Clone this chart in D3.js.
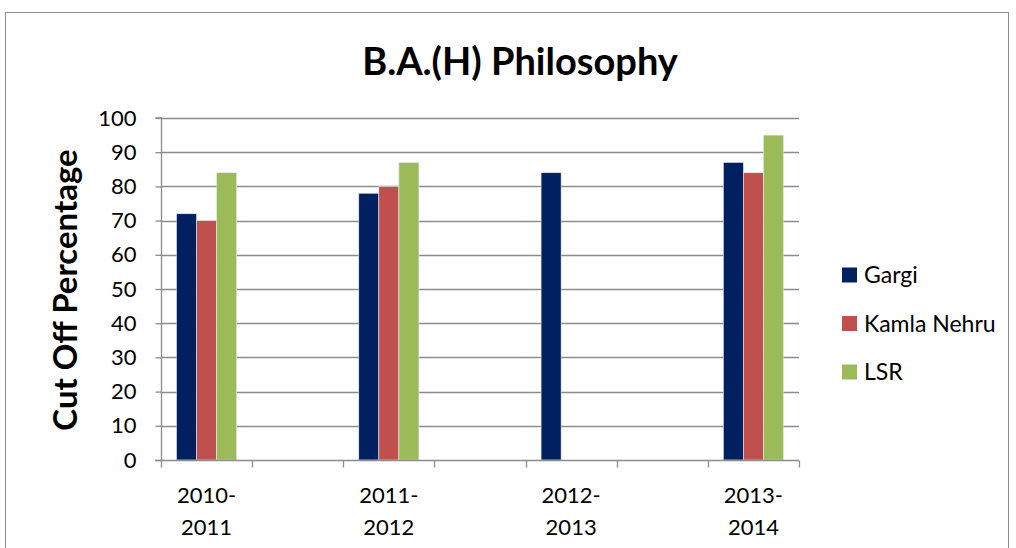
<!DOCTYPE html>
<html><head><meta charset="utf-8">
<script src="https://cdn.jsdelivr.net/npm/d3@7/dist/d3.min.js"></script>
<style>body{margin:0;background:#fff}svg{display:block}text{font-family:Lato,"Open Sans",sans-serif}</style>
</head><body>
<script>
const categories = ["2010-2011", "", "2011-2012", "", "2012-2013", "", "2013-2014"];
const seriesNames = ["Gargi", "Kamla Nehru", "LSR"];
const gargi = [72, null, 78, null, 84, null, 87];
const kamlaNehru = [70, null, 80, null, null, null, 84];
const lsr = [84, null, 87, null, null, null, 95];
const yTicks = [0,10,20,30,40,50,60,70,80,90,100];
const colors = ["#002060", "#C0504D", "#9BBB59"];
const series = [gargi, kamlaNehru, lsr];

const W = 1016, H = 548;
const svg = d3.select("body").append("svg").attr("width", W).attr("height", H);
svg.append("rect").attr("x", 5.5).attr("y", 12.5).attr("width", 1003).attr("height", 545)
  .attr("fill", "#fff").attr("stroke", "#8c8c8c").attr("stroke-width", 1);

const pLeft = 161, pRight = 799, pTop = 118, pBottom = 460;
const x = d3.scaleBand().domain(d3.range(categories.length)).range([pLeft, pRight]).paddingInner(0).paddingOuter(0);
const y = d3.scaleLinear().domain([0, 100]).range([pBottom, pTop]);

// gridlines
svg.append("g").selectAll("line").data(yTicks.filter(d => d > 0)).join("line")
  .attr("x1", pLeft).attr("x2", pRight).attr("y1", d => Math.round(y(d)) + 0.5).attr("y2", d => Math.round(y(d)) + 0.5)
  .attr("stroke", "#8c8c8c").attr("stroke-width", 1.3);

// bars
const inner = x.bandwidth() * 0.66;
const sub = d3.scaleBand().domain(d3.range(series.length)).range([0, inner]);
series.forEach((vals, si) => {
  svg.append("g").selectAll("rect").data(vals.map((v, i) => ({v, i})).filter(d => d.v != null)).join("rect")
    .attr("x", d => x(d.i) + (x.bandwidth() - inner) / 2 + sub(si))
    .attr("y", d => y(d.v))
    .attr("width", sub.bandwidth())
    .attr("height", d => y(0) - y(d.v))
    .attr("fill", colors[si]).attr("stroke", "#e8ecf4").attr("stroke-width", 0.6);
});

// y axis
const ya = svg.append("g").attr("transform", `translate(${pLeft + 0.5},0)`)
  .call(d3.axisLeft(y).tickValues(yTicks).tickSize(6).tickPadding(19));
ya.select(".domain").attr("stroke", "#8c8c8c").attr("stroke-width", 1.3).attr("d", `M-6,${pTop}H0V${pBottom}`);
ya.selectAll(".tick line").attr("stroke", "#8c8c8c").attr("stroke-width", 1.3);
ya.selectAll(".tick text").attr("font-size", 22).attr("fill", "#000").style("font-family", "Lato");

// x axis
const xa = svg.append("g").attr("transform", `translate(0,${pBottom + 0.5})`);
xa.append("line").attr("x1", pLeft - 6).attr("x2", pRight).attr("stroke", "#8c8c8c").attr("stroke-width", 1.3);
const xticks = d3.range(categories.length + 1).map(i => i < categories.length ? x(i) : pRight);
xa.selectAll(".xt").data(xticks).join("line").attr("class", "xt")
  .attr("x1", d => Math.round(d) + 0.5).attr("x2", d => Math.round(d) + 0.5).attr("y1", 0).attr("y2", 7)
  .attr("stroke", "#8c8c8c").attr("stroke-width", 1.3);
const xl = xa.selectAll(".xl").data(categories.map((c, i) => ({c, i})).filter(d => d.c)).join("text")
  .attr("class", "xl").attr("text-anchor", "middle").attr("font-size", 22).attr("fill", "#000");
xl.each(function(d) {
  const parts = d.c.split("-");
  const t = d3.select(this);
  t.append("tspan").attr("x", x(d.i) + x.bandwidth() / 2).attr("y", 42).text(parts[0] + "-");
  t.append("tspan").attr("x", x(d.i) + x.bandwidth() / 2).attr("y", 74).text(parts[1]);
});

// title
svg.append("text").attr("x", 520).attr("y", 75).attr("text-anchor", "middle")
  .attr("font-size", 38).attr("font-weight", "bold").attr("fill", "#000").text("B.A.(H) Philosophy");

// y label
svg.append("text").attr("transform", `translate(77,290) rotate(-90)`).attr("text-anchor", "middle")
  .attr("font-size", 33).attr("font-weight", "bold").attr("fill", "#000").text("Cut Off Percentage");

// legend
const lg = svg.append("g");
seriesNames.forEach((n, i) => {
  const cy = 275 + i * 48.5;
  lg.append("rect").attr("x", 842).attr("y", cy - 7.5).attr("width", 15).attr("height", 15).attr("fill", colors[i]);
  lg.append("text").attr("x", 864).attr("y", cy + 8).attr("font-size", 23).attr("fill", "#000").text(n);
});
</script>
</body></html>
